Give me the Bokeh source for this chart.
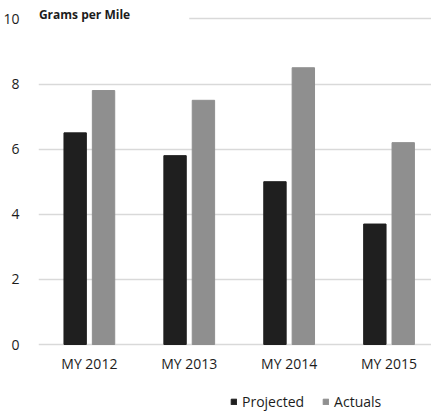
from bokeh.plotting import figure
from bokeh.models import (Range1d, FixedTicker, Legend, LegendItem, Label,
                          BoxAnnotation, ColumnDataSource)
from bokeh.core.properties import value
from bokeh.embed import file_html
from bokeh.resources import INLINE

# Emissions by model year, grams per mile
categories = ["MY 2012", "MY 2013", "MY 2014", "MY 2015"]
projected = [6.5, 5.8, 5.0, 3.7]
actuals = [7.8, 7.5, 8.5, 6.2]
y_ticks = [0, 2, 4, 6, 8, 10]
series_names = ["Projected", "Actuals"]

FONT = "Open Sans"
TEXT = "#1c1c1c"
DARK = "#1f1f1f"
MID = "#8f8f8f"
GRID = "#d9d9d9"

idx = list(range(len(categories)))
offset = 0.142
bar_w = 0.224

src = ColumnDataSource(dict(
    x=idx,
    x_proj=[i - offset for i in idx],
    x_act=[i + offset for i in idx],
    projected=projected,
    actuals=actuals,
    label=categories,
    label_y=[-0.58] * len(idx),
))

# the frame fills the whole height so the category labels, legend and unit
# label can all be drawn inside it
p = figure(width=431, height=412, output_backend="svg", toolbar_location=None,
           x_range=Range1d(-0.509, 3.425), y_range=Range1d(-2.088, 10.565),
           min_border_left=36, min_border_right=0, min_border_top=0,
           min_border_bottom=0, outline_line_color=None)

r_proj = p.vbar(x="x_proj", top="projected", width=bar_w, source=src,
                fill_color=DARK, line_color=DARK)
r_act = p.vbar(x="x_act", top="actuals", width=bar_w, source=src,
               fill_color=MID, line_color=MID)

# category labels under the zero line
p.text(x="x", y="label_y", text="label", source=src, text_align="center",
       text_baseline="alphabetic", text_font=value(FONT),
       text_font_size="14px", text_color=TEXT)

p.xaxis.visible = False
p.xgrid.grid_line_color = None

p.yaxis.ticker = FixedTicker(ticks=y_ticks)
p.yaxis.axis_line_color = None
p.yaxis.major_tick_line_color = None
p.yaxis.minor_tick_line_color = None
p.yaxis.major_label_text_font = FONT
p.yaxis.major_label_text_font_size = "14px"
p.yaxis.major_label_text_color = TEXT
p.yaxis.major_label_standoff = 13

p.ygrid.ticker = FixedTicker(ticks=y_ticks)
p.ygrid.grid_line_color = GRID
p.ygrid.grid_line_width = 1.5

# keep the top gridline clear behind the unit label
p.add_layout(BoxAnnotation(right=1.0, top=10.3, bottom=9.7,
                           fill_color="white", fill_alpha=1.0, line_color=None))
p.add_layout(Label(x=-0.505, y=10.13, text="Grams per Mile", text_font=FONT,
                   text_font_size="12px", text_font_style="bold",
                   text_color=TEXT, text_baseline="alphabetic"))

legend = Legend(items=[LegendItem(label=series_names[0], renderers=[r_proj]),
                       LegendItem(label=series_names[1], renderers=[r_act])],
                orientation="horizontal", location=(192, 1),
                glyph_width=7, glyph_height=7, label_standoff=5, spacing=18,
                padding=0, margin=0, border_line_color=None,
                background_fill_alpha=0, label_text_font=FONT,
                label_text_font_size="14px", label_text_color=TEXT,
                label_height=14)
p.add_layout(legend, "center")

open("out.html", "w").write(file_html(p, INLINE))
